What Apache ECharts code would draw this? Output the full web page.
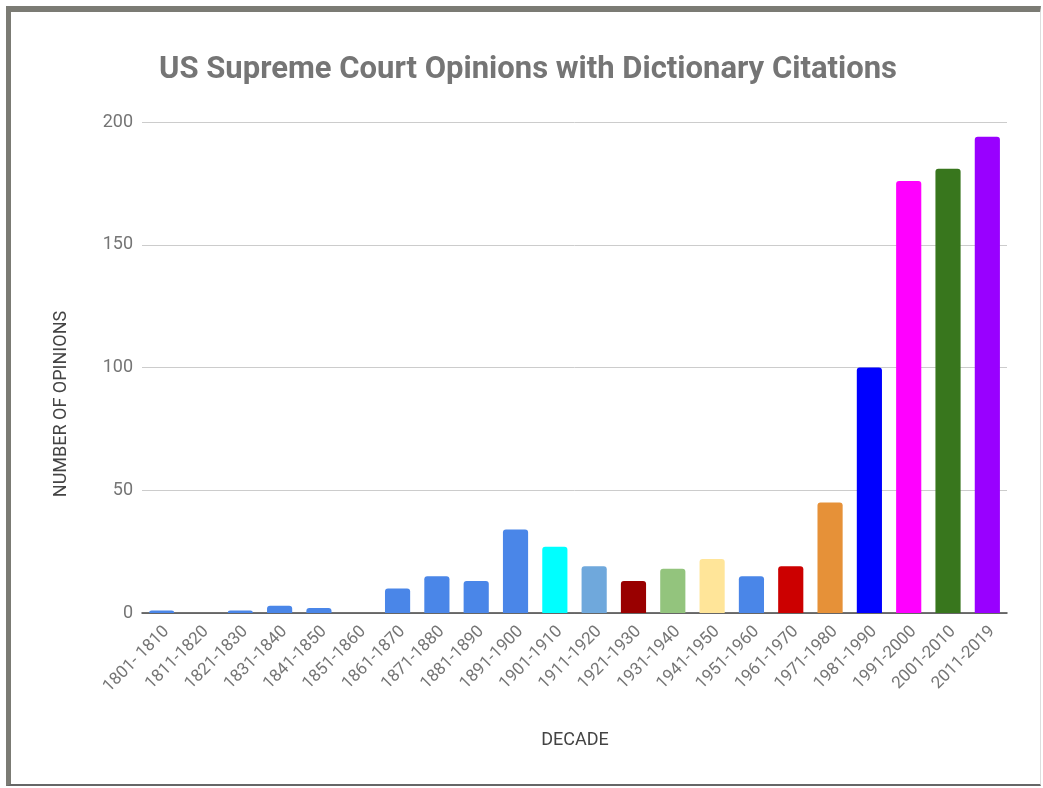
<!DOCTYPE html>
<html>
<head>
<meta charset="utf-8">
<script src="https://cdn.jsdelivr.net/npm/echarts@6/dist/echarts.min.js"></script>
<style>
html,body{margin:0;padding:0;background:#fff;}
#chart{position:absolute;left:0;top:0;width:1043px;height:788px;}
#frame{position:absolute;left:6px;top:6px;width:1029px;height:772px;border-left:5px solid #7b7b74;border-top:6px solid #7b7b74;border-bottom:2px solid #666;border-right:1px solid #ddd;pointer-events:none;}
</style>
</head>
<body>
<div id="chart"></div>
<div id="frame"></div>
<script>
const categories = ["1801- 1810","1811-1820","1821-1830","1831-1840","1841-1850","1851-1860","1861-1870","1871-1880","1881-1890","1891-1900","1901-1910","1911-1920","1921-1930","1931-1940","1941-1950","1951-1960","1961-1970","1971-1980","1981-1990","1991-2000","2001-2010","2011-2019"];
const values = [1,0,1,3,2,0,10,15,13,34,27,19,13,18,22,15,19,45,100,176,181,194];
const barColors = ["#4a86e8","#4a86e8","#4a86e8","#4a86e8","#4a86e8","#4a86e8","#4a86e8","#4a86e8","#4a86e8","#4a86e8","#00ffff","#6fa8dc","#990000","#93c47d","#ffe599","#4a86e8","#cc0000","#e69138","#0000ff","#ff00ff","#38761d","#9900ff"];
const yTicks = [0,50,100,150,200];

const chart = echarts.init(document.getElementById('chart'));
chart.setOption({
  animation:false,
  backgroundColor:'#fff',
  title:{
    text:'US Supreme Court Opinions with Dictionary Citations',
    left:523, textAlign:'center', top:50,
    textStyle:{fontFamily:'Roboto',fontWeight:'bold',fontSize:31,color:'#757575'}
  },
  grid:{left:142,right:36,top:122,bottom:175,containLabel:false},
  xAxis:{
    type:'category',
    data:categories,
    axisLine:{lineStyle:{color:'#444',width:1.5}},
    axisTick:{show:false},
    axisLabel:{rotate:45,color:'#757575',fontFamily:'Roboto',fontSize:17,margin:21,interval:0,padding:[0,-7,0,0]}
  },
  yAxis:{
    type:'value',
    min:yTicks[0], max:yTicks[yTicks.length-1], interval:50,
    axisLine:{show:false},
    axisTick:{show:false},
    splitLine:{lineStyle:{color:'#cccccc',width:1}},
    axisLabel:{color:'#757575',fontFamily:'Roboto',fontSize:18,margin:9}
  },
  series:[{
    type:'bar',
    data:values.map((v,i)=>({value:v,itemStyle:{color:barColors[i]}})),
    barWidth:'64%',
    itemStyle:{borderRadius:[3,3,0,0]}
  }],
  graphic:[
    {type:'text',x:61,y:404,rotation:Math.PI/2,
     style:{text:'NUMBER OF OPINIONS',fill:'#444',font:'18px Roboto',textAlign:'center',textVerticalAlign:'middle'}},
    {type:'text',x:575,y:740,
     style:{text:'DECADE',fill:'#444',font:'18px Roboto',textAlign:'center',textVerticalAlign:'middle'}}
  ]
});
</script>
</body>
</html>
